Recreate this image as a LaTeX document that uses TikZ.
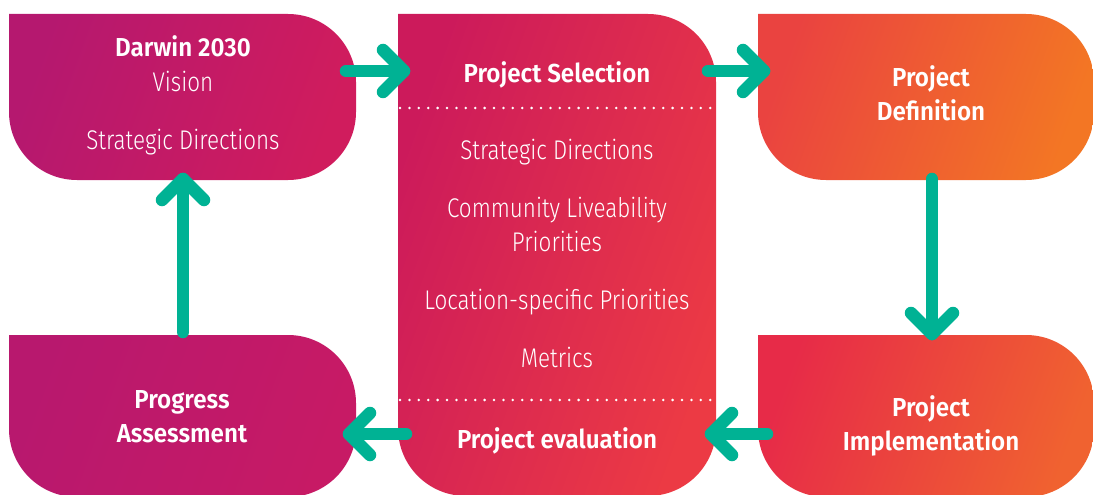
\documentclass[tikz,border=0pt]{standalone}
\usepackage{fontspec}
\setmainfont{Fira Sans}
\newfontfamily\lightf{Fira Sans Light}[FakeStretch=0.83]
\newfontfamily\boldf{Fira Sans SemiBold}[FakeStretch=0.93]
\usetikzlibrary{calc}
\definecolor{teal1}{HTML}{00B294}
\definecolor{Aleft}{HTML}{B5186F}
\definecolor{Aright}{HTML}{D01C5D}
\definecolor{Bleft}{HTML}{CC1A5B}
\definecolor{Bmid}{HTML}{E81B4A}
\definecolor{Bright}{HTML}{EC3A44}
\definecolor{Cleft}{HTML}{EA4340}
\definecolor{Cright}{HTML}{F37624}
\definecolor{Dleft}{HTML}{E72B48}
\definecolor{Dright}{HTML}{F06230}
\definecolor{Eleft}{HTML}{B8186E}
\definecolor{Eright}{HTML}{C71A65}
\def\R{68}
\newcommand\blobshape[5]{%
  \shade[#5] (#1,-#2) -- (#3-\R,-#2) arc[start angle=90,end angle=0,radius=\R]
    -- (#3,-#4+\R) arc[start angle=0,end angle=-90,radius=\R]
    -- (#1+\R,-#4) arc[start angle=270,end angle=180,radius=\R] -- cycle;}
\tikzset{
  arr/.style={draw=teal1, line width=12.5pt, line cap=round, line join=round},
  dots/.style={draw=white, line width=2.8pt, line cap=round, dash pattern=on 0pt off 9.4pt},
  lt/.style={text=white, font=\lightf\fontsize{27}{34}\selectfont, anchor=base, inner sep=0, align=center},
  bd/.style={text=white, font=\boldf\fontsize{26}{34}\selectfont, anchor=base, inner sep=0, align=center},
}
\begin{document}
\begin{tikzpicture}[x=1pt,y=1pt]
\useasboundingbox (0,0) rectangle (1093,-495);
\clip (0,0) rectangle (1093,-495);
% boxes
\blobshape{9}{14}{356}{180}{left color=Aleft, right color=Aright, shading angle=70}
\blobshape{398}{14}{716}{496}{left color=Bleft, middle color=Bmid, right color=Bright, shading angle=70}
\blobshape{758}{14}{1094}{180}{left color=Cleft, right color=Cright, shading angle=70}
\blobshape{758}{335}{1094}{497}{left color=Dleft, right color=Dright, shading angle=70}
\blobshape{9}{335}{356}{497}{left color=Eleft, right color=Eright, shading angle=70}
% dotted separators
\coordinate (d1a) at (400,-108); \coordinate (d1b) at (716,-108);
\coordinate (d2a) at (400,-400); \coordinate (d2b) at (716,-400);
\draw[dots] (d1a) -- (d1b);
\draw[dots] (d2a) -- (d2b);
% texts (anchor base = baseline of the last line)
\node[bd] (darwin) at (183,-57) {Darwin 2030};
\node[lt] (vision) at (183,-92) {Vision};
\node[lt] (sd1) at (183,-149) {Strategic Directions};
\node[bd] (psel) at (557,-83) {Project Selection};
\node[lt] (sd2) at (557,-159) {Strategic Directions};
\node[lt] (clp) at (557,-251) {Community Liveability\\Priorities};
\node[lt] (lsp) at (557,-309) {Location-specific Priorities};
\node[lt] (met) at (557,-367) {Metrics};
\node[bd] (peval) at (557,-448) {Project evaluation};
\node[bd] (pdef) at (931,-121) {Project\\Definition};
\node[bd] (pimp) at (931,-450) {Project\\Implementation};
\node[bd] (pass) at (182,-442) {Progress\\Assessment};
% arrows
\coordinate (a1s) at (346,-71); \coordinate (a1e) at (404,-71);
\coordinate (a2s) at (708,-71); \coordinate (a2e) at (764,-71);
\coordinate (a3s) at (932,-179); \coordinate (a3e) at (932,-334);
\coordinate (a4s) at (767,-434); \coordinate (a4e) at (711,-434);
\coordinate (a5s) at (406,-434); \coordinate (a5e) at (349,-434);
\coordinate (a6s) at (183,-332); \coordinate (a6e) at (183,-179);
\draw[arr] (a1s) -- (a1e);
\draw[arr] ($(a1e)+(-21,21)$) -- (a1e) -- ($(a1e)+(-21,-21)$);
\draw[arr] (a2s) -- (a2e);
\draw[arr] ($(a2e)+(-21,21)$) -- (a2e) -- ($(a2e)+(-21,-21)$);
\draw[arr] (a3s) -- (a3e);
\draw[arr] ($(a3e)+(-21,21)$) -- (a3e) -- ($(a3e)+(21,21)$);
\draw[arr] (a4s) -- (a4e);
\draw[arr] ($(a4e)+(21,21)$) -- (a4e) -- ($(a4e)+(21,-21)$);
\draw[arr] (a5s) -- (a5e);
\draw[arr] ($(a5e)+(21,21)$) -- (a5e) -- ($(a5e)+(21,-21)$);
\draw[arr] (a6s) -- (a6e);
\draw[arr] ($(a6e)+(-21,-21)$) -- (a6e) -- ($(a6e)+(21,-21)$);
\end{tikzpicture}
\end{document}
